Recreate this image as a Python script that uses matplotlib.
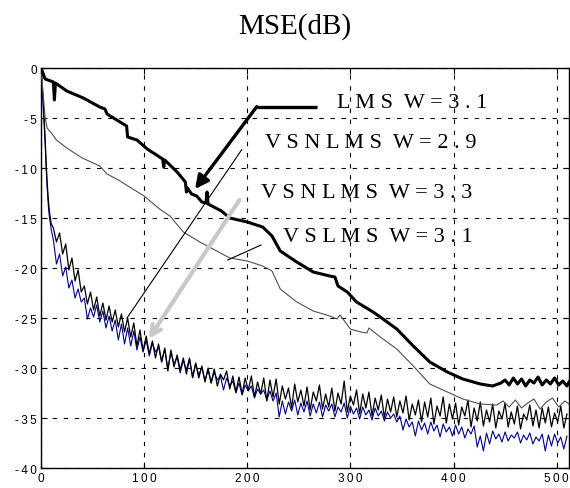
import numpy as np
import matplotlib
matplotlib.use("Agg")
import matplotlib.pyplot as plt

# --- data ------------------------------------------------------------------
# LMS W=3.1 (thick black)
lms_x = [0, 4, 12, 13, 14, 25, 41, 57, 62, 64, 83, 84, 93, 103, 118, 119, 120,
         132, 140, 141, 142, 146, 151, 156, 160, 161, 162, 175, 183, 200, 215,
         224, 232, 248, 264, 280, 285, 288, 297, 306, 322, 329, 345, 361, 377,
         394, 409, 426, 438, 446, 450, 454, 458, 462, 466, 470, 474, 478, 482,
         486, 490, 494, 498, 502, 506, 510, 512]
lms_y = [0, -1.1, -1.4, -3.2, -1.5, -2.3, -3.0, -3.9, -4.1, -4.6, -5.8, -6.9,
         -7.2, -8.1, -9.1, -9.9, -9.2, -10.4, -11.4, -12.4, -12.0, -12.6, -12.8,
         -13.4, -13.5, -12.4, -13.6, -14.3, -15.0, -15.4, -15.9, -16.8, -18.3,
         -19.4, -20.4, -20.8, -20.9, -21.8, -22.4, -23.4, -24.4, -24.9, -26.1,
         -27.8, -29.4, -30.4, -31.1, -31.6, -31.8, -31.5, -31.2, -31.7, -31.0,
         -31.6, -31.1, -31.8, -31.2, -31.5, -30.9, -31.7, -31.2, -31.6, -31.0,
         -31.7, -31.3, -31.8, -31.4]

# VSLMS W=3.1 (thin grey)
vslms_x = [0, 2, 4, 6, 10, 15, 25, 40, 57, 64, 75, 89, 100, 115, 125, 138, 154,
           165, 183, 200, 215, 224, 232, 248, 264, 280, 287, 290, 300, 310, 316,
           318, 329, 345, 361, 377, 394, 409, 426, 442, 448, 454, 460, 466, 472,
           478, 484, 490, 496, 502, 508, 512]
vslms_y = [0, -2.5, -5.0, -6.0, -6.5, -7.2, -8.0, -9.0, -9.8, -10.6, -11.2,
           -12.1, -12.8, -14.1, -14.8, -16.4, -17.4, -18.0, -19.0, -19.3, -19.8,
           -20.3, -22.1, -23.4, -24.3, -24.8, -25.1, -24.7, -26.1, -26.4, -26.5,
           -26.0, -26.9, -28.1, -29.8, -31.6, -32.4, -33.1, -33.6, -33.7, -33.3,
           -33.9, -33.2, -34.0, -33.5, -33.1, -34.1, -33.4, -33.0, -33.9, -33.3,
           -33.6]

# VSNLMS W=2.9 (black, noisy): first 11 samples at n=0..10, then every 3rd
vsn29_y = [0, -1.5, -3.0, -5.0, -7.0, -9.5, -11.5, -13.0, -14.2, -15.0, -15.6,
           -16.0, -17.4, -16.5, -18.6, -17.6, -20.2, -19.0, -21.3, -20.2, -22.4,
           -21.8, -23.6, -22.4, -24.2, -22.9, -24.8, -23.5, -25.2, -23.8, -25.4,
           -24.2, -25.9, -24.6, -26.4, -25.0, -26.9, -25.5, -27.8, -26.2, -28.3,
           -26.8, -28.6, -27.3, -29.0, -27.6, -29.4, -28.0, -30.3, -28.2, -29.9,
           -28.7, -30.2, -29.0, -30.6, -29.1, -30.9, -29.5, -31.0, -29.8, -31.4,
           -30.0, -31.5, -30.1, -31.8, -30.6, -31.2, -30.3, -32.1, -30.8, -32.4,
           -30.9, -32.6, -31.0, -32.2, -30.8, -32.9, -31.4, -32.6, -31.0, -33.3,
           -31.2, -32.9, -31.1, -33.6, -31.8, -33.1, -32.0, -34.0, -31.6, -33.4,
           -32.2, -33.8, -31.9, -34.2, -32.4, -33.3, -31.7, -34.1, -32.6, -33.9,
           -32.0, -34.3, -32.5, -33.6, -31.3, -34.4, -32.8, -33.7, -32.2, -34.6,
           -32.6, -34.0, -32.4, -34.8, -33.0, -34.2, -32.7, -35.0, -33.1, -34.4,
           -32.9, -34.9, -33.3, -34.5, -32.8, -35.2, -33.6, -34.7, -33.2, -35.4,
           -33.4, -34.9, -33.0, -35.6, -33.8, -34.8, -32.9, -35.5, -33.6, -35.1,
           -33.5, -35.7, -33.9, -34.8, -33.2, -35.9, -34.0, -35.3, -33.4, -35.8,
           -34.2, -35.4, -33.6, -36.0, -34.3, -35.1, -33.5, -35.9, -34.4, -35.6,
           -33.8, -36.1, -34.6, -35.2, -33.7, -35.8, -34.2, -36.0, -34.0, -35.5,
           -33.9, -35.9, -34.5, -35.4, -33.8, -36.0, -34.6]

# VSNLMS W=3.3 (navy, noisy)
vsn33_y = [0, -1.8, -3.5, -5.5, -7.5, -10.0, -12.0, -13.6, -14.8, -15.5, -16.2,
           -17.2, -19.6, -18.6, -20.8, -19.9, -22.0, -21.2, -23.0, -22.1, -23.4,
           -23.0, -25.1, -24.0, -24.9, -23.7, -25.4, -24.3, -26.0, -24.8, -26.3,
           -25.2, -27.2, -25.6, -27.6, -26.0, -27.8, -26.3, -28.2, -26.9, -28.4,
           -27.2, -28.8, -27.5, -28.4, -27.9, -29.4, -28.1, -30.1, -28.4, -29.6,
           -28.9, -30.5, -29.2, -30.2, -29.0, -31.0, -29.6, -30.7, -29.9, -31.3,
           -30.2, -31.5, -30.4, -31.2, -30.8, -32.2, -31.0, -31.8, -31.3, -32.5,
           -31.5, -32.7, -31.7, -32.3, -31.8, -33.0, -32.1, -32.6, -32.2, -33.2,
           -32.3, -33.3, -32.5, -34.9, -33.3, -34.6, -33.4, -34.3, -33.2, -34.7,
           -33.5, -34.4, -33.3, -34.8, -33.6, -34.5, -33.4, -34.9, -33.7, -34.3,
           -33.6, -34.9, -33.9, -34.4, -33.5, -35.0, -33.8, -34.6, -34.0, -35.1,
           -33.9, -34.7, -34.2, -35.2, -34.0, -34.8, -34.3, -35.3, -34.4, -35.0,
           -34.6, -35.4, -34.8, -36.2, -35.1, -35.9, -35.4, -36.8, -35.3, -36.2,
           -35.5, -36.6, -35.4, -36.3, -35.7, -36.9, -35.6, -36.4, -35.9, -36.8,
           -35.7, -36.6, -35.9, -37.0, -36.1, -36.6, -35.8, -37.9, -36.8, -38.3,
           -36.5, -37.6, -36.3, -37.1, -36.6, -37.4, -36.4, -37.3, -36.7, -37.0,
           -36.4, -37.5, -36.7, -37.2, -36.5, -37.6, -36.9, -37.3, -36.6, -38.3,
           -36.7, -37.8, -36.6, -37.5, -36.9, -38.1, -36.8]

head_x = list(range(0, 11))


def sample_index(vals):
    # n = 0..10 one by one, then every third iteration from 12
    return head_x + list(range(12, 12 + 3 * (len(vals) - len(head_x)), 3))


xticks = [0, 100, 200, 300, 400, 500]
yticks = [0, -5, -10, -15, -20, -25, -30, -35, -40]

labels = ["L M S  W = 3 . 1", "V S N L M S  W = 2 . 9",
          "V S N L M S  W = 3 . 3", "V S L M S  W = 3 . 1"]

THIN = "\u2009"


def spaced(v):
    return THIN.join(str(v))


fig = plt.figure(figsize=(5.70, 4.89), dpi=100)
ax = fig.add_axes([41 / 570, 20 / 489, 528 / 570, 400 / 489])

ax.plot(sample_index(vsn33_y), vsn33_y, color="#00008b", lw=0.8, zorder=3)
ax.plot(sample_index(vsn29_y), vsn29_y, color="black", lw=0.9, zorder=4)
ax.plot(vslms_x, vslms_y, color="#505050", lw=0.8, zorder=4)
ax.plot(lms_x, lms_y, color="black", lw=2.2, zorder=5)

ax.set_xlim(0, 512)
ax.set_ylim(-40, 0)
ax.set_xticks(xticks)
ax.set_yticks(yticks)
ax.set_xticklabels([spaced(t) for t in xticks])
ax.set_yticklabels([spaced(t) for t in yticks])
for lab in ax.get_xticklabels() + ax.get_yticklabels():
    lab.set_family(["Liberation Sans", "DejaVu Sans"])
    lab.set_fontsize(8.5)
ax.tick_params(direction="in", length=4, width=0.8, top=True, right=True,
               pad=3)
ax.grid(True, color="black", lw=0.8, linestyle=(0, (4, 6)))
for sp in ax.spines.values():
    sp.set_linewidth(1.0)

# annotations
serif = ["Liberation Serif", "DejaVu Serif"]
text_pos = [(287, -3.4), (217, -7.4), (213, -12.4), (235, -16.9)]
for (tx, ty), s in zip(text_pos, labels):
    ax.text(tx, ty, s, family=serif, fontsize=16, ha="left", va="center",
            zorder=6)

# LMS arrow (thick, elbowed)
ax.plot([267.4, 209.2], [-3.87, -3.87], color="black", lw=2.4, zorder=6,
        solid_capstyle="butt")
ax.annotate("", xy=(149.4, -12.1), xytext=(209.2, -3.87),
            arrowprops=dict(arrowstyle="-|>", color="black", lw=2.4,
                            mutation_scale=20, shrinkA=0, shrinkB=0),
            zorder=6)
# VSNLMS 2.9 thin pointer
ax.plot([194.6, 83.4], [-8.17, -25.0], color="black", lw=0.8, zorder=6)
# VSNLMS 3.3 grey arrow
ax.annotate("", xy=(104.5, -27.1), xytext=(192.4, -13.2),
            arrowprops=dict(arrowstyle="->", color="#c8c8c8", lw=3,
                            mutation_scale=18, shrinkA=0, shrinkB=0),
            zorder=6)
# VSLMS thin pointer
ax.plot([213.4, 181.0], [-17.7, -19.2], color="black", lw=0.8, zorder=6)

fig.text(295 / 570, 1 - 27 / 489, "MSE(dB)", family=serif, fontsize=21,
         ha="center", va="center")

fig.savefig("out.png", dpi=100)
